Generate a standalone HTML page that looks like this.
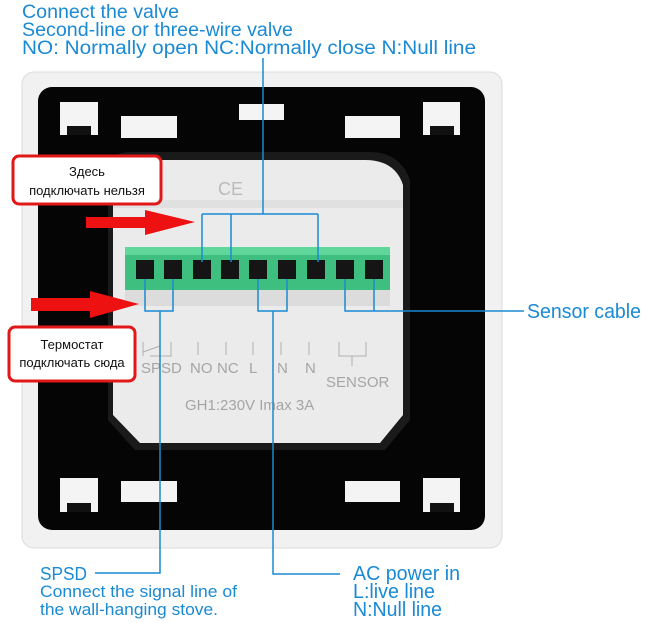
<!DOCTYPE html>
<html><head><meta charset="utf-8"><style>
html,body{margin:0;padding:0;background:#fff;}
svg{display:block;}
.b{font-family:"Liberation Sans",sans-serif;fill:#1a8ad4;}
.g{font-family:"Liberation Sans",sans-serif;fill:#a5a5a5;font-size:15px;}
.r{font-family:"Liberation Sans","Noto Sans CJK SC",sans-serif;fill:#111;font-size:13px;}
</style></head><body>
<svg width="650" height="623" viewBox="0 0 650 623" xmlns="http://www.w3.org/2000/svg">
<rect width="650" height="623" fill="#fff"/>
<rect x="22" y="72" width="480" height="476" rx="12" fill="#f1f1f1" stroke="#dcdcdc"/>
<rect x="38" y="87" width="447" height="443" rx="14" fill="#050505"/>
<g fill="#f4f4f4">
<rect x="60" y="102" width="38" height="33"/><rect x="121" y="116" width="56" height="22"/>
<rect x="239" y="104" width="45" height="16"/><rect x="345" y="116" width="55" height="22"/>
<rect x="423" y="102" width="37" height="33"/>
<rect x="60" y="478" width="38" height="34"/><rect x="121" y="481" width="56" height="21"/>
<rect x="345" y="481" width="55" height="21"/><rect x="423" y="478" width="37" height="34"/>
</g>
<g fill="#111"><rect x="67" y="126" width="24" height="9"/><rect x="430" y="126" width="24" height="9"/>
<rect x="67" y="503" width="24" height="9"/><rect x="430" y="503" width="24" height="9"/></g>
<path d="M108 170 Q110 152 130 152 L370 152 Q400 152 410 180 L410 420 L385 450 L135 450 L108 420 Z" fill="#1a1a1a"/>
<path d="M113 178 Q116 160 135 160 L365 160 Q395 160 403 185 L403 415 L380 443 L140 443 L113 415 Z" fill="#ebebeb"/>
<rect x="113" y="200" width="290" height="8" fill="#e0e0e0"/>
<text x="218" y="195" font-family="Liberation Sans,sans-serif" font-size="18" fill="#bbb">CE</text>
<rect x="125" y="247" width="265" height="43" fill="#3fbf7f"/>
<rect x="125" y="247" width="265" height="8" fill="#5fd69a"/>
<rect x="125" y="290" width="265" height="16" fill="#dcdcdc"/>
<g fill="#151515">
<rect x="136" y="260" width="18" height="19"/><rect x="164" y="260" width="18" height="19"/><rect x="193" y="260" width="18" height="19"/>
<rect x="221" y="260" width="18" height="19"/><rect x="249" y="260" width="18" height="19"/><rect x="278" y="260" width="18" height="19"/>
<rect x="307" y="260" width="18" height="19"/><rect x="336" y="260" width="18" height="19"/><rect x="365" y="260" width="18" height="19"/>
</g>
<g stroke="#b0b0b0" stroke-width="1" fill="none">
<path d="M143 342 V356 M171 342 V356 M143 352 L160 346 M171 352 V356 H150"/>
<path d="M198 342 V355 M226 342 V355 M253 342 V355 M281 342 V355 M309 342 V355 M339 342 V356 H366 V342 M352 356 V366"/>
</g>
<text class="g" x="141" y="373">SPSD</text>
<text class="g" x="190" y="373">NO</text><text class="g" x="217" y="373">NC</text>
<text class="g" x="249" y="373">L</text><text class="g" x="277" y="373">N</text><text class="g" x="305" y="373">N</text>
<text class="g" x="326" y="387">SENSOR</text>
<text class="g" x="185" y="410">GH1:230V Imax 3A</text>
<g stroke="#1a8ad4" stroke-width="1.5" fill="none">
<path d="M263 58 V214 M202 214 H318 M202 214 V262 M231 214 V262 M318 214 V262"/>
<path d="M145 279 V311 H173 V279 M160 311 V573 H95"/>
<path d="M258 279 V311 H287 V279 M273 311 V574 H340"/>
<path d="M345 279 V311 H374 V279 M374 311 H524"/>
</g>
<path d="M86 217 H145 V210 L195 222 L145 235 V228 H86 Z" fill="#ee1111"/>
<path d="M31 298 H90 V291 L139 304 L90 318 V311 H31 Z" fill="#ee1111"/>
<rect x="13" y="156" width="148" height="48" rx="6" fill="#fff" stroke="#e01818" stroke-width="3"/>
<text class="r" x="87" y="176" text-anchor="middle">Здесь</text>
<text class="r" x="87" y="195" text-anchor="middle">подключать нельзя</text>
<rect x="9" y="327" width="126" height="54" rx="6" fill="#fff" stroke="#e01818" stroke-width="3"/>
<text class="r" x="72" y="349" text-anchor="middle">Термостат</text>
<text class="r" x="72" y="367" text-anchor="middle">подключать сюда</text>
<text class="b" x="22" y="18" font-size="19" textLength="157" lengthAdjust="spacingAndGlyphs">Connect the valve</text>
<text class="b" x="22" y="36" font-size="19" textLength="271" lengthAdjust="spacingAndGlyphs">Second-line or three-wire valve</text>
<text class="b" x="22" y="54" font-size="19" textLength="454" lengthAdjust="spacingAndGlyphs">NO:  Normally open   NC:Normally close N:Null line</text>
<text class="b" x="527" y="318" font-size="20" textLength="114" lengthAdjust="spacingAndGlyphs">Sensor cable</text>
<text class="b" x="40" y="580" font-size="18" textLength="47" lengthAdjust="spacingAndGlyphs">SPSD</text>
<text class="b" x="40" y="597" font-size="17" textLength="197" lengthAdjust="spacingAndGlyphs">Connect the signal line of</text>
<text class="b" x="40" y="615" font-size="17" textLength="178" lengthAdjust="spacingAndGlyphs">the wall-hanging stove.</text>
<text class="b" x="353" y="580" font-size="20" textLength="107" lengthAdjust="spacingAndGlyphs">AC power in</text>
<text class="b" x="353" y="598" font-size="20" textLength="82" lengthAdjust="spacingAndGlyphs">L:live line</text>
<text class="b" x="353" y="616" font-size="20" textLength="89" lengthAdjust="spacingAndGlyphs">N:Null line</text>
</svg>
</body></html>
